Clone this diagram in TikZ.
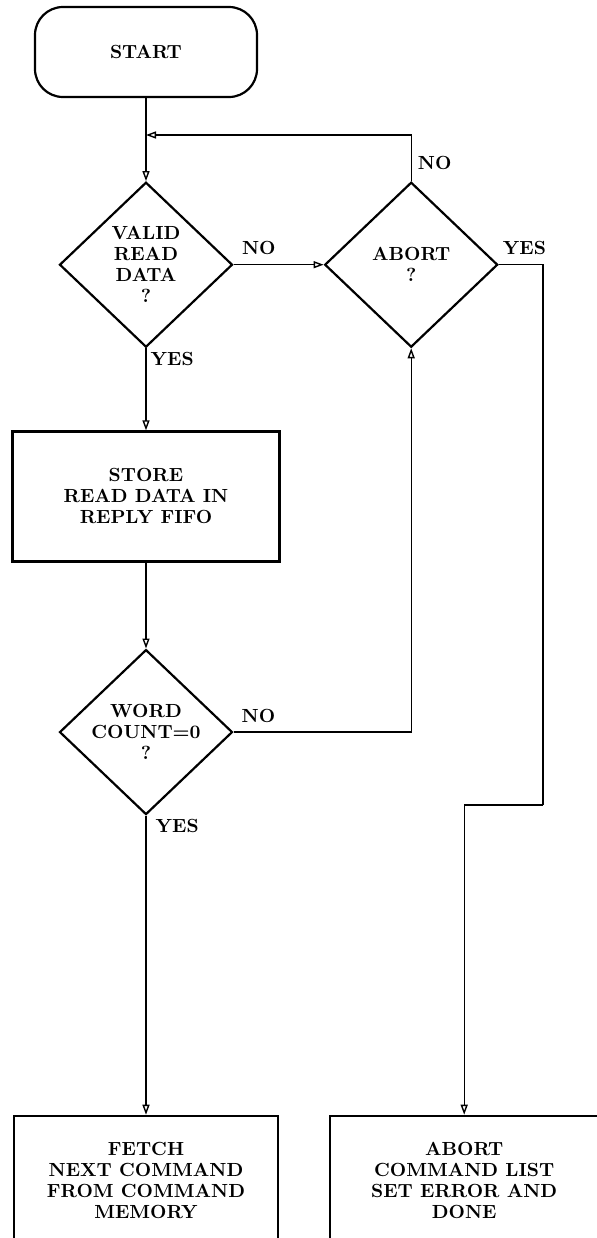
\documentclass[tikz,border=0pt]{standalone}
\usepackage{tikz}
\usetikzlibrary{arrows.meta,positioning,shapes.geometric}
\tikzset{
  flowfont/.style={font=\fontsize{9.5}{10.5}\selectfont\bfseries},
  terminal/.style={
    rectangle, rounded corners=14pt, draw, line width=1.1pt,
    minimum width=111pt, minimum height=45pt,
    flowfont, align=center, inner sep=2pt
  },
  decision/.style={
    diamond, draw, line width=1.1pt, aspect=1.05,
    minimum width=86.5pt, minimum height=82.5pt,
    flowfont, align=center, inner sep=0pt
  },
  processbox/.style={
    rectangle, draw, line width=1.1pt,
    minimum width=#1, minimum height=65pt,
    flowfont, align=center, inner sep=3pt
  },
  processbox/.default=133.5pt,
  flowarrow/.style={
    -{Triangle[open, length=5pt, width=3.5pt]}, line width=0.7pt
  },
  flowline/.style={line width=0.7pt},
  lbl/.style={flowfont, inner sep=1.5pt},
}
\begin{document}
\begin{tikzpicture}[x=0.5pt, y=-0.5pt, node distance=41.5pt and 45pt]
\useasboundingbox (0,0) rectangle (597,1238);
\node[terminal] (start) at (146,52) {START};
\node[decision, below=of start] (valid) {VALID\\READ\\DATA\\?};
\node[decision, right=of valid] (abort) {ABORT\\?};
\node[processbox, below=41pt of valid] (store) {STORE\\READ DATA IN\\REPLY FIFO};
\node[decision, below=43pt of store] (wordcnt) {WORD\\COUNT=0\\?};
\node[processbox=132pt, below=149.5pt of wordcnt] (fetch) {FETCH\\NEXT COMMAND\\FROM COMMAND\\MEMORY};
\node[processbox=134pt, right=25pt of fetch] (abortbox) {ABORT\\COMMAND LIST\\SET ERROR AND\\DONE};
\coordinate (merge) at (146,135);
\coordinate (yesturn) at (543,805);
\draw[flowarrow] (start) -- (valid);
\draw[flowarrow] (abort.north) |- node[lbl, pos=0.2, right=1.5pt] {NO} (merge);
\draw[flowarrow] (valid.east) -- node[lbl, pos=0.28, above=3pt] {NO} (abort.west);
\draw[flowarrow] (valid.south) -- node[lbl, pos=0, anchor=north west, xshift=0.5pt] {YES} (store.north);
\draw[flowarrow] (store) -- (wordcnt);
\draw[flowarrow] (wordcnt.east) -| node[lbl, pos=0.07, above=3pt] {NO} (abort.south);
\draw[flowarrow] (wordcnt.south) -- node[lbl, pos=0, anchor=north west, xshift=3pt] {YES} (fetch.north);
\draw[flowline] (abort.east) -| node[lbl, pos=0.29, above=3pt] {YES} (yesturn);
\draw[flowarrow] (yesturn) -| (abortbox.north);
\end{tikzpicture}
\end{document}
